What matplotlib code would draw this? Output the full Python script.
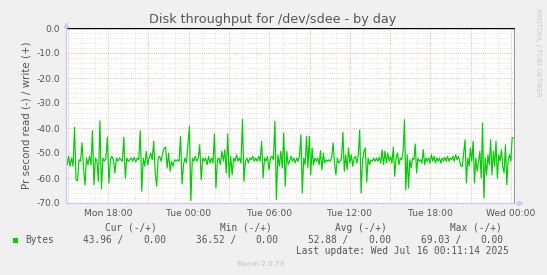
import numpy as np
import matplotlib
matplotlib.use("Agg")
import matplotlib.pyplot as plt
from matplotlib.ticker import MultipleLocator, FuncFormatter

# read throughput (negative side), 4 chunks of roughly equal time span
read_a = [-54.7, -51.3, -55.3, -52.0, -55.3, -39.7, -60.7, -61.1, -52.7, -53.3,
          -46.0, -56.0, -62.9, -52.0, -54.7, -51.3, -54.7, -41.1, -62.7, -52.0,
          -53.3, -61.3, -37.1, -64.3, -52.0, -53.3, -52.0, -43.7, -62.0, -52.7,
          -51.3, -52.7, -58.0, -52.0, -53.3, -52.0, -52.7, -53.3, -43.7, -60.0,
          -52.0, -53.3, -52.7, -52.0, -53.3, -51.7, -53.6, -52.0, -52.7, -41.1,
          -65.3, -52.0, -55.3, -49.3, -54.7, -52.0, -50.0, -52.7, -45.3, -58.0,
          -63.3, -52.0, -51.3, -53.3, -50.0, -48.0, -47.7, -56.0, -50.0, -57.3,
          -53.3, -55.3, -52.7, -53.3, -52.7]
read_b = [-53.3, -43.3, -62.4, -54.7, -52.0, -54.0, -46.7, -39.3, -69.0, -52.0,
          -53.3, -51.3, -53.3, -52.0, -46.7, -60.7, -52.0, -53.3, -52.0, -54.7,
          -51.3, -54.0, -52.0, -54.0, -42.4, -64.0, -52.7, -52.0, -54.7, -49.3,
          -53.3, -48.7, -58.0, -42.4, -60.0, -51.3, -58.7, -52.0, -53.3, -50.7,
          -53.3, -52.0, -54.0, -36.5, -61.3, -53.3, -52.0, -54.0, -52.0, -52.7,
          -51.3, -53.3, -52.0, -53.3, -51.3, -53.3, -45.3, -60.0, -52.0, -53.3,
          -51.3, -56.7, -52.0, -51.3, -52.7, -37.3, -68.7, -50.7, -55.3, -49.3,
          -56.0, -42.0, -63.3, -49.3, -54.7, -53.3]
read_c = [-51.3, -53.3, -52.0, -54.0, -52.0, -53.3, -51.3, -42.7, -66.0, -52.0,
          -54.7, -43.3, -56.0, -43.3, -58.7, -48.0, -54.7, -52.0, -53.3, -52.0,
          -54.7, -49.1, -56.7, -50.0, -54.0, -52.7, -53.3, -52.7, -53.3, -51.7,
          -46.0, -54.0, -58.7, -52.0, -54.0, -53.3, -52.0, -41.7, -57.3, -50.7,
          -56.7, -48.0, -54.0, -50.7, -55.3, -52.0, -51.3, -54.0, -50.7, -40.8,
          -66.0, -53.3, -49.3, -48.0, -61.6, -52.0, -54.7, -52.7, -53.3, -52.0,
          -53.3, -52.0, -53.3, -51.7, -54.0, -48.7, -54.7, -49.3, -54.0, -50.0,
          -53.3, -51.3, -54.0, -47.7, -59.3, -52.0, -50.0, -54.7, -52.0, -52.7]
read_d = [-49.3, -36.7, -64.7, -50.7, -64.0, -52.7, -56.0, -52.0, -52.7, -46.4,
          -58.0, -52.0, -53.3, -52.7, -54.0, -48.7, -54.7, -52.0, -53.3, -52.0,
          -54.0, -50.7, -53.3, -51.3, -54.0, -52.0, -53.3, -52.0, -54.0, -52.0,
          -53.3, -51.7, -53.3, -51.3, -53.3, -52.0, -52.7, -51.3, -53.3, -50.7,
          -52.7, -51.3, -53.3, -55.3, -55.3, -50.0, -44.7, -62.0, -52.0, -55.3,
          -48.0, -53.3, -45.3, -62.0, -52.0, -57.3, -53.3, -49.3, -60.0, -38.0,
          -68.0, -52.0, -58.7, -50.7, -54.7, -44.7, -58.7, -49.3, -55.3, -45.3,
          -60.0, -50.7, -53.3, -48.7, -55.3, -58.0, -46.7, -62.7, -52.7, -50.7,
          -53.3, -44.0]
# chunk boundaries in hours since Mon 00:00
chunk_edges = [14.95, 23.29, 31.63, 39.97, 48.19]

hour_labels = {18: "Mon 18:00", 24: "Tue 00:00", 30: "Tue 06:00",
               36: "Tue 12:00", 42: "Tue 18:00", 48: "Wed 00:00"}

legend_heads = ["Cur (-/+)", "Min (-/+)", "Avg (-/+)", "Max (-/+)"]
legend_read = ["43.96 /", "36.52 /", "52.88 /", "69.03 /"]
legend_write = ["0.00", "0.00", "0.00", "0.00"]

chunks = [read_a, read_b, read_c, read_d]
t = np.concatenate([np.linspace(chunk_edges[i], chunk_edges[i + 1], len(c), endpoint=False)
                    for i, c in enumerate(chunks)])
v = np.concatenate(chunks)
t = np.append(t, chunk_edges[-1])
v = np.append(v, read_d[-1])

W, H = 547, 275
fig = plt.figure(figsize=(W / 100, H / 100), dpi=100, facecolor="#f0f0f0")
ax = fig.add_axes([66 / W, 1 - 203 / H, 449 / W, 175 / H])
ax.set_facecolor("#ffffff")

ax.set_xlim(14.87, 48.3)
ax.set_ylim(-70, 0)

ax.xaxis.set_major_locator(MultipleLocator(3))
ax.xaxis.set_minor_locator(MultipleLocator(1))
ax.yaxis.set_major_locator(MultipleLocator(10))
ax.yaxis.set_minor_locator(MultipleLocator(2))
ax.xaxis.set_major_formatter(FuncFormatter(lambda x, p: hour_labels.get(int(round(x)), "")))
ax.yaxis.set_major_formatter(FuncFormatter(lambda y, p: "%.1f" % y))

ax.grid(which="minor", color="#dadada", linestyle=(0, (1, 1.5)), linewidth=0.55)
ax.grid(which="major", color="#eaa8a8", linestyle=(0, (1, 1.5)), linewidth=0.6)
ax.set_axisbelow(True)
ax.tick_params(which="both", length=0, labelsize=6.6, colors="#555555", pad=4)

for s in ax.spines.values():
    s.set_visible(False)

ax.plot(t, v, color="#00cc00", linewidth=0.85, zorder=3)
ax.axhline(0, color="#000000", linewidth=1.0, zorder=4)
ax.axvline(48.2, color="#999999", linewidth=0.8, zorder=2)

# axes with small arrow heads
ax.plot([14.87, 14.87], [-70, 1.0], color="#c8c8f0", lw=0.9, clip_on=False, zorder=5)
ax.plot([14.87, 48.6], [-70, -70], color="#c8c8f0", lw=0.9, clip_on=False, zorder=5)
ax.plot([14.87], [1.3], marker="^", color="#c8c8f0", markersize=3, clip_on=False, zorder=5)
ax.plot([48.65], [-70], marker=">", color="#c8c8f0", markersize=3, clip_on=False, zorder=5)

ax.set_ylabel("Pr second read (-) / write (+)", fontsize=7.4, color="#555555", labelpad=4)

fig.text(273 / W, 1 - 19 / H, "Disk throughput for /dev/sdee - by day", ha="center", va="center",
         fontsize=9.2, color="#555555")
fig.text(538 / W, 1 - 52 / H, "RRDTOOL / TOBI OETIKER", rotation=270, ha="center", va="center",
         fontsize=5, color="#c8c8c8")

mono = "DejaVu Sans Mono"
fs = 6.85
head_right = [157, 272, 387, 502]
read_right = [123, 236, 348, 461]
write_right = [166, 278, 391, 503]
for i in range(4):
    fig.text(head_right[i] / W, 1 - 228 / H, legend_heads[i], ha="right", va="center",
             family=mono, fontsize=fs, color="#555555")
    fig.text(read_right[i] / W, 1 - 240 / H, legend_read[i], ha="right", va="center",
             family=mono, fontsize=fs, color="#555555")
    fig.text(write_right[i] / W, 1 - 240 / H, legend_write[i], ha="right", va="center",
             family=mono, fontsize=fs, color="#555555")
fig.text(25 / W, 1 - 240 / H, "Bytes", ha="left", va="center", family=mono, fontsize=fs, color="#555555")
fig.patches.append(plt.Rectangle((13 / W, 1 - 243 / H), 5 / W, 5 / H, transform=fig.transFigure,
                                 facecolor="#00cc00", edgecolor="none"))
fig.text(509 / W, 1 - 251 / H, "Last update: Wed Jul 16 00:11:14 2025", ha="right", va="center",
         family=mono, fontsize=fs, color="#555555")
fig.text(261 / W, 1 - 264 / H, "Munin 2.0.73", ha="center", va="center", fontsize=5.2, color="#c0c0c0")

fig.savefig("out.png", dpi=100, facecolor=fig.get_facecolor())
